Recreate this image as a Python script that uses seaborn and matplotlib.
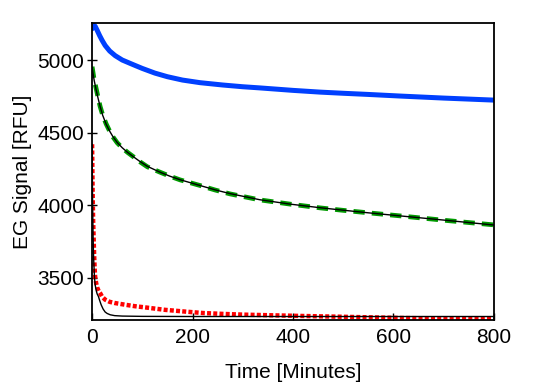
import matplotlib
matplotlib.use("Agg")
import matplotlib.pyplot as plt
import seaborn as sns
import pandas as pd

# blue trace
blue_t = [0, 1, 3, 6, 10, 15, 20, 26, 35, 46, 60, 75, 86, 100, 125, 150, 180, 215,
          260, 300, 334, 400, 454, 500, 550, 613, 700, 800]
blue_y = [5215, 5232, 5240, 5233, 5205, 5168, 5135, 5100, 5062, 5030, 5000, 4978, 4962,
          4942, 4910, 4885, 4862, 4844, 4828, 4816, 4808, 4791, 4779, 4771, 4763, 4752,
          4738, 4724]

# green trace and its fit
green_t = [0, 2, 4, 8, 12, 16, 21, 28, 35, 41, 50, 60, 71, 87, 95, 110, 135, 155, 175,
           215, 245, 275, 334, 394, 454, 500, 550, 613, 700, 800]
green_y = [4954, 4910, 4865, 4805, 4740, 4680, 4622, 4560, 4510, 4473, 4430, 4395, 4363,
           4322, 4300, 4265, 4228, 4200, 4175, 4136, 4105, 4078, 4037, 4008, 3982, 3965,
           3948, 3927, 3897, 3865]
green_fit_y = [4950, 4905, 4862, 4795, 4735, 4680, 4620, 4558, 4510, 4475, 4432, 4396, 4363,
               4322, 4302, 4268, 4228, 4200, 4176, 4136, 4106, 4080, 4038, 4008, 3983, 3966,
               3948, 3927, 3898, 3864]

# red trace and its fit
red_t = [0, 0.5, 1, 2, 3, 4, 5, 6, 8, 10, 13, 16, 20, 26, 35, 45, 66, 85, 105, 145, 185,
         221, 260, 300, 350, 414, 500, 613, 700, 800]
red_y = [4420, 4250, 4100, 3900, 3780, 3660, 3570, 3510, 3465, 3435, 3410, 3395, 3370, 3350,
         3335, 3327, 3315, 3305, 3297, 3280, 3268, 3258, 3252, 3247, 3243, 3238, 3232, 3224,
         3220, 3217]
red_fit_t = [0, 0.5, 1, 2, 3, 4.6, 6, 8, 10, 12.6, 15, 18, 22, 26, 30, 36, 45, 60, 100, 200,
             400, 800]
red_fit_y = [4420, 4200, 4020, 3780, 3640, 3510, 3455, 3415, 3390, 3372, 3345, 3315, 3285,
             3265, 3255, 3246, 3240, 3237, 3235, 3234, 3234, 3234]

sns.set_style("ticks")
plt.rcParams['font.family'] = ['Liberation Sans', 'DejaVu Sans']
plt.rcParams['text.color'] = 'black'
plt.rcParams['axes.labelcolor'] = 'black'
plt.rcParams['xtick.color'] = 'black'
plt.rcParams['ytick.color'] = 'black'

fig = plt.figure(figsize=(5.45, 3.83), dpi=100)
ax = fig.add_axes([0.169, 0.1645, 0.737, 0.7755])

blue = pd.DataFrame({'t': blue_t, 'y': blue_y})
green = pd.DataFrame({'t': green_t, 'y': green_y, 'fit': green_fit_y})
red = pd.DataFrame({'t': red_t, 'y': red_y})
red_fit = pd.DataFrame({'t': red_fit_t, 'y': red_fit_y})

sns.lineplot(data=blue, x='t', y='y', ax=ax, color='#0040ff', lw=3.6, solid_capstyle='round')
sns.lineplot(data=green, x='t', y='y', ax=ax, color='#009a00', lw=3.4, dashes=False,
             linestyle=(0, (2.4, 1.5)))
sns.lineplot(data=green, x='t', y='fit', ax=ax, color='black', lw=1.0)
sns.lineplot(data=red, x='t', y='y', ax=ax, color='#ff0000', lw=3.2,
             linestyle=(0, (0.9, 0.5)))
sns.lineplot(data=red_fit, x='t', y='y', ax=ax, color='black', lw=1.0)

ax.set_xlim(0, 800)
ax.set_ylim(3210, 5255)
ax.set_xticks([0, 200, 400, 600, 800])
ax.set_yticks([3500, 4000, 4500, 5000])
ax.set_xlabel('Time [Minutes]', fontsize=15, labelpad=11)
ax.set_ylabel('EG Signal [RFU]', fontsize=15, labelpad=4)
ax.tick_params(axis='x', direction='in', length=5, width=1, labelsize=15, pad=6)
ax.tick_params(axis='y', direction='inout', length=7, width=1, labelsize=15, pad=2)
for s in ax.spines.values():
    s.set_color('black')
    s.set_linewidth(1.3)

fig.savefig('out.png', dpi=100)
